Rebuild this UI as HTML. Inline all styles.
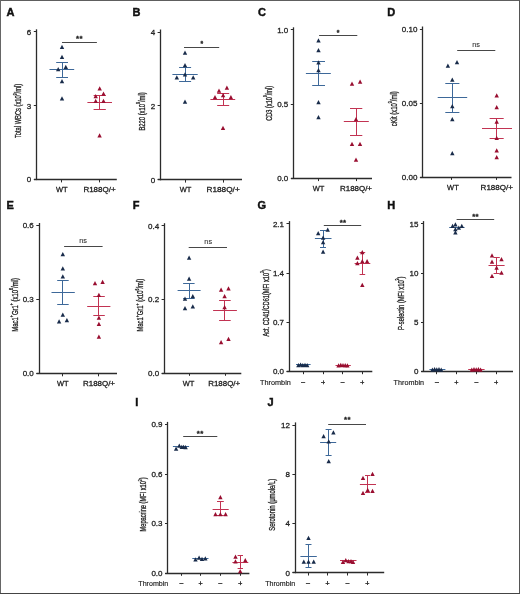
<!DOCTYPE html>
<html><head><meta charset="utf-8"><style>
html,body{margin:0;padding:0;background:#fff;}
body{width:520px;height:594px;overflow:hidden;}
svg{display:block;will-change:transform;}
text{font-family:"Liberation Sans", sans-serif;}
</style></head><body>
<svg width="520" height="594" viewBox="0 0 520 594">
<rect x="0" y="0" width="520" height="594" fill="#fff"/>
<text transform="translate(6.60,16.10) scale(1.08,1)" x="0" y="0" font-size="10.2" font-weight="bold" fill="#111" stroke="#111" stroke-width="0.42">A</text>
<line x1="36.50" y1="29.30" x2="36.50" y2="180.10" stroke="#2b2b2b" stroke-width="1.3"/>
<line x1="34.00" y1="179.50" x2="116.80" y2="179.50" stroke="#2b2b2b" stroke-width="1.3"/>
<line x1="33.80" y1="31.50" x2="36.60" y2="31.50" stroke="#2b2b2b" stroke-width="1.0"/>
<text x="31.30" y="34.75" font-size="8.0" text-anchor="end" font-weight="normal" fill="#222" stroke="#222" stroke-width="0.28">6</text>
<line x1="33.80" y1="105.50" x2="36.60" y2="105.50" stroke="#2b2b2b" stroke-width="1.0"/>
<text x="31.30" y="108.65" font-size="8.0" text-anchor="end" font-weight="normal" fill="#222" stroke="#222" stroke-width="0.28">3</text>
<line x1="33.80" y1="179.50" x2="36.60" y2="179.50" stroke="#2b2b2b" stroke-width="1.0"/>
<text x="31.30" y="182.45" font-size="8.0" text-anchor="end" font-weight="normal" fill="#222" stroke="#222" stroke-width="0.28">0</text>
<line x1="61.50" y1="179.60" x2="61.50" y2="182.40" stroke="#2b2b2b" stroke-width="1.0"/>
<line x1="99.50" y1="179.60" x2="99.50" y2="182.40" stroke="#2b2b2b" stroke-width="1.0"/>
<text x="61.70" y="192.20" font-size="7.3" text-anchor="middle" font-weight="normal" fill="#222" textLength="11.60" lengthAdjust="spacingAndGlyphs" stroke="#222" stroke-width="0.28">WT</text>
<text x="99.50" y="192.20" font-size="7.3" text-anchor="middle" font-weight="normal" fill="#222" textLength="32.20" lengthAdjust="spacingAndGlyphs" stroke="#222" stroke-width="0.28">R188Q/+</text>
<text transform="translate(21.30,110.95) rotate(-90) scale(0.6925,1)" x="0" y="0" font-size="8.3" text-anchor="middle" fill="#222" stroke="#222" stroke-width="0.3"><tspan>Total WBCs (x10</tspan><tspan font-size="5.0" baseline-shift="4.7">9</tspan><tspan>/ml)</tspan></text>
<line x1="62.00" y1="42.50" x2="96.90" y2="42.50" stroke="#474747" stroke-width="1.0"/>
<text x="79.50" y="41.30" font-size="7.8" text-anchor="middle" font-weight="bold" fill="#222" stroke="#222" stroke-width="0.3" letter-spacing="0.4">**</text>
<line x1="49.50" y1="69.50" x2="74.20" y2="69.50" stroke="#3d6899" stroke-width="1.0"/>
<line x1="62.50" y1="62.40" x2="62.50" y2="77.00" stroke="#3d6899" stroke-width="1.0"/>
<line x1="56.20" y1="62.50" x2="68.00" y2="62.50" stroke="#3d6899" stroke-width="1.0"/>
<line x1="56.20" y1="77.50" x2="68.00" y2="77.50" stroke="#3d6899" stroke-width="1.0"/>
<polygon points="62.00,44.80 64.20,49.05 59.80,49.05" fill="#182b4a"/>
<polygon points="62.00,54.80 64.20,59.05 59.80,59.05" fill="#182b4a"/>
<polygon points="58.20,67.10 60.40,71.35 56.00,71.35" fill="#182b4a"/>
<polygon points="65.80,64.80 68.00,69.05 63.60,69.05" fill="#182b4a"/>
<polygon points="62.00,79.00 64.20,83.25 59.80,83.25" fill="#182b4a"/>
<polygon points="62.00,96.30 64.20,100.55 59.80,100.55" fill="#182b4a"/>
<line x1="87.40" y1="102.50" x2="112.00" y2="102.50" stroke="#c23352" stroke-width="1.0"/>
<line x1="99.50" y1="95.80" x2="99.50" y2="109.60" stroke="#c23352" stroke-width="1.0"/>
<line x1="93.60" y1="95.50" x2="105.80" y2="95.50" stroke="#c23352" stroke-width="1.0"/>
<line x1="93.60" y1="109.50" x2="105.80" y2="109.50" stroke="#c23352" stroke-width="1.0"/>
<polygon points="99.70,86.30 101.90,90.55 97.50,90.55" fill="#990e30"/>
<polygon points="103.50,91.40 105.70,95.65 101.30,95.65" fill="#990e30"/>
<polygon points="95.70,94.00 97.90,98.25 93.50,98.25" fill="#990e30"/>
<polygon points="95.70,98.70 97.90,102.95 93.50,102.95" fill="#990e30"/>
<polygon points="103.50,98.70 105.70,102.95 101.30,102.95" fill="#990e30"/>
<polygon points="99.60,133.30 101.80,137.55 97.40,137.55" fill="#990e30"/>
<text transform="translate(132.60,16.10) scale(1.08,1)" x="0" y="0" font-size="10.2" font-weight="bold" fill="#111" stroke="#111" stroke-width="0.42">B</text>
<line x1="160.50" y1="29.50" x2="160.50" y2="180.30" stroke="#2b2b2b" stroke-width="1.3"/>
<line x1="157.80" y1="179.50" x2="242.00" y2="179.50" stroke="#2b2b2b" stroke-width="1.3"/>
<line x1="157.60" y1="32.50" x2="160.40" y2="32.50" stroke="#2b2b2b" stroke-width="1.0"/>
<text x="155.10" y="34.95" font-size="8.0" text-anchor="end" font-weight="normal" fill="#222" stroke="#222" stroke-width="0.28">4</text>
<line x1="157.60" y1="105.50" x2="160.40" y2="105.50" stroke="#2b2b2b" stroke-width="1.0"/>
<text x="155.10" y="108.75" font-size="8.0" text-anchor="end" font-weight="normal" fill="#222" stroke="#222" stroke-width="0.28">2</text>
<line x1="157.60" y1="179.50" x2="160.40" y2="179.50" stroke="#2b2b2b" stroke-width="1.0"/>
<text x="155.10" y="182.65" font-size="8.0" text-anchor="end" font-weight="normal" fill="#222" stroke="#222" stroke-width="0.28">0</text>
<line x1="185.50" y1="179.80" x2="185.50" y2="182.60" stroke="#2b2b2b" stroke-width="1.0"/>
<line x1="223.50" y1="179.80" x2="223.50" y2="182.60" stroke="#2b2b2b" stroke-width="1.0"/>
<text x="185.50" y="192.20" font-size="7.3" text-anchor="middle" font-weight="normal" fill="#222" textLength="11.60" lengthAdjust="spacingAndGlyphs" stroke="#222" stroke-width="0.28">WT</text>
<text x="223.10" y="192.20" font-size="7.3" text-anchor="middle" font-weight="normal" fill="#222" textLength="33.20" lengthAdjust="spacingAndGlyphs" stroke="#222" stroke-width="0.28">R188Q/+</text>
<text transform="translate(145.00,111.45) rotate(-90) scale(0.7034,1)" x="0" y="0" font-size="8.3" text-anchor="middle" fill="#222" stroke="#222" stroke-width="0.3"><tspan>B220 (x10</tspan><tspan font-size="5.0" baseline-shift="4.7">9</tspan><tspan>/ml)</tspan></text>
<line x1="184.00" y1="47.50" x2="219.20" y2="47.50" stroke="#474747" stroke-width="1.0"/>
<text x="201.90" y="46.00" font-size="6.8" text-anchor="middle" font-weight="bold" fill="#222" stroke="#222" stroke-width="0.3" letter-spacing="0.4">*</text>
<line x1="172.40" y1="74.50" x2="197.70" y2="74.50" stroke="#3d6899" stroke-width="1.0"/>
<line x1="185.50" y1="67.90" x2="185.50" y2="81.00" stroke="#3d6899" stroke-width="1.0"/>
<line x1="179.10" y1="67.50" x2="191.10" y2="67.50" stroke="#3d6899" stroke-width="1.0"/>
<line x1="179.10" y1="81.50" x2="191.10" y2="81.50" stroke="#3d6899" stroke-width="1.0"/>
<polygon points="185.00,50.50 187.20,54.75 182.80,54.75" fill="#182b4a"/>
<polygon points="185.00,63.10 187.20,67.35 182.80,67.35" fill="#182b4a"/>
<polygon points="185.00,72.20 187.20,76.45 182.80,76.45" fill="#182b4a"/>
<polygon points="176.80,75.20 179.00,79.45 174.60,79.45" fill="#182b4a"/>
<polygon points="193.20,75.20 195.40,79.45 191.00,79.45" fill="#182b4a"/>
<polygon points="185.00,99.40 187.20,103.65 182.80,103.65" fill="#182b4a"/>
<line x1="210.40" y1="99.50" x2="235.20" y2="99.50" stroke="#c23352" stroke-width="1.0"/>
<line x1="223.50" y1="93.70" x2="223.50" y2="105.20" stroke="#c23352" stroke-width="1.0"/>
<line x1="217.20" y1="93.50" x2="229.20" y2="93.50" stroke="#c23352" stroke-width="1.0"/>
<line x1="217.20" y1="105.50" x2="229.20" y2="105.50" stroke="#c23352" stroke-width="1.0"/>
<polygon points="226.90,85.40 229.10,89.65 224.70,89.65" fill="#990e30"/>
<polygon points="219.00,88.50 221.20,92.75 216.80,92.75" fill="#990e30"/>
<polygon points="223.10,92.90 225.30,97.15 220.90,97.15" fill="#990e30"/>
<polygon points="215.00,95.00 217.20,99.25 212.80,99.25" fill="#990e30"/>
<polygon points="230.90,95.00 233.10,99.25 228.70,99.25" fill="#990e30"/>
<polygon points="223.00,125.80 225.20,130.05 220.80,130.05" fill="#990e30"/>
<text transform="translate(257.90,16.10) scale(1.08,1)" x="0" y="0" font-size="10.2" font-weight="bold" fill="#111" stroke="#111" stroke-width="0.42">C</text>
<line x1="293.50" y1="27.30" x2="293.50" y2="178.80" stroke="#2b2b2b" stroke-width="1.3"/>
<line x1="291.00" y1="178.50" x2="372.00" y2="178.50" stroke="#2b2b2b" stroke-width="1.3"/>
<line x1="290.80" y1="29.50" x2="293.60" y2="29.50" stroke="#2b2b2b" stroke-width="1.0"/>
<text x="288.30" y="32.75" font-size="8.0" text-anchor="end" font-weight="normal" fill="#222" stroke="#222" stroke-width="0.28">1.0</text>
<line x1="290.80" y1="104.50" x2="293.60" y2="104.50" stroke="#2b2b2b" stroke-width="1.0"/>
<text x="288.30" y="107.15" font-size="8.0" text-anchor="end" font-weight="normal" fill="#222" stroke="#222" stroke-width="0.28">0.5</text>
<line x1="290.80" y1="178.50" x2="293.60" y2="178.50" stroke="#2b2b2b" stroke-width="1.0"/>
<text x="288.30" y="181.15" font-size="8.0" text-anchor="end" font-weight="normal" fill="#222" stroke="#222" stroke-width="0.28">0.0</text>
<line x1="318.50" y1="178.30" x2="318.50" y2="181.10" stroke="#2b2b2b" stroke-width="1.0"/>
<line x1="356.50" y1="178.30" x2="356.50" y2="181.10" stroke="#2b2b2b" stroke-width="1.0"/>
<text x="318.50" y="190.80" font-size="7.3" text-anchor="middle" font-weight="normal" fill="#222" textLength="11.60" lengthAdjust="spacingAndGlyphs" stroke="#222" stroke-width="0.28">WT</text>
<text x="356.00" y="190.80" font-size="7.3" text-anchor="middle" font-weight="normal" fill="#222" textLength="32.00" lengthAdjust="spacingAndGlyphs" stroke="#222" stroke-width="0.28">R188Q/+</text>
<text transform="translate(271.60,103.35) rotate(-90) scale(0.6794,1)" x="0" y="0" font-size="8.3" text-anchor="middle" fill="#222" stroke="#222" stroke-width="0.3"><tspan>CD3 (x10</tspan><tspan font-size="5.0" baseline-shift="4.7">9</tspan><tspan>/ml)</tspan></text>
<line x1="319.10" y1="35.50" x2="357.30" y2="35.50" stroke="#474747" stroke-width="1.0"/>
<text x="338.20" y="34.50" font-size="6.8" text-anchor="middle" font-weight="bold" fill="#222" stroke="#222" stroke-width="0.3" letter-spacing="0.4">*</text>
<line x1="305.90" y1="73.50" x2="330.80" y2="73.50" stroke="#3d6899" stroke-width="1.0"/>
<line x1="318.50" y1="61.50" x2="318.50" y2="85.90" stroke="#3d6899" stroke-width="1.0"/>
<line x1="312.20" y1="61.50" x2="325.00" y2="61.50" stroke="#3d6899" stroke-width="1.0"/>
<line x1="312.20" y1="85.50" x2="325.00" y2="85.50" stroke="#3d6899" stroke-width="1.0"/>
<polygon points="318.50,38.20 320.70,42.45 316.30,42.45" fill="#182b4a"/>
<polygon points="318.50,48.10 320.70,52.35 316.30,52.35" fill="#182b4a"/>
<polygon points="318.50,60.30 320.70,64.55 316.30,64.55" fill="#182b4a"/>
<polygon points="318.50,68.10 320.70,72.35 316.30,72.35" fill="#182b4a"/>
<polygon points="318.50,100.10 320.70,104.35 316.30,104.35" fill="#182b4a"/>
<polygon points="318.50,115.00 320.70,119.25 316.30,119.25" fill="#182b4a"/>
<line x1="343.80" y1="121.50" x2="368.80" y2="121.50" stroke="#c23352" stroke-width="1.0"/>
<line x1="356.50" y1="108.30" x2="356.50" y2="135.00" stroke="#c23352" stroke-width="1.0"/>
<line x1="350.00" y1="108.50" x2="362.30" y2="108.50" stroke="#c23352" stroke-width="1.0"/>
<line x1="350.00" y1="135.50" x2="362.30" y2="135.50" stroke="#c23352" stroke-width="1.0"/>
<polygon points="352.00,81.50 354.20,85.75 349.80,85.75" fill="#990e30"/>
<polygon points="360.10,79.50 362.30,83.75 357.90,83.75" fill="#990e30"/>
<polygon points="356.00,117.00 358.20,121.25 353.80,121.25" fill="#990e30"/>
<polygon points="352.00,141.80 354.20,146.05 349.80,146.05" fill="#990e30"/>
<polygon points="360.00,141.80 362.20,146.05 357.80,146.05" fill="#990e30"/>
<polygon points="356.00,157.50 358.20,161.75 353.80,161.75" fill="#990e30"/>
<text transform="translate(387.30,16.10) scale(1.08,1)" x="0" y="0" font-size="10.2" font-weight="bold" fill="#111" stroke="#111" stroke-width="0.42">D</text>
<line x1="422.50" y1="26.50" x2="422.50" y2="177.60" stroke="#2b2b2b" stroke-width="1.3"/>
<line x1="420.10" y1="177.50" x2="511.50" y2="177.50" stroke="#2b2b2b" stroke-width="1.3"/>
<line x1="419.90" y1="29.50" x2="422.70" y2="29.50" stroke="#2b2b2b" stroke-width="1.0"/>
<text x="417.40" y="31.95" font-size="8.0" text-anchor="end" font-weight="normal" fill="#222" stroke="#222" stroke-width="0.28">0.10</text>
<line x1="419.90" y1="103.50" x2="422.70" y2="103.50" stroke="#2b2b2b" stroke-width="1.0"/>
<text x="417.40" y="105.95" font-size="8.0" text-anchor="end" font-weight="normal" fill="#222" stroke="#222" stroke-width="0.28">0.05</text>
<line x1="419.90" y1="177.50" x2="422.70" y2="177.50" stroke="#2b2b2b" stroke-width="1.0"/>
<text x="417.40" y="179.95" font-size="8.0" text-anchor="end" font-weight="normal" fill="#222" stroke="#222" stroke-width="0.28">0.00</text>
<line x1="451.50" y1="177.10" x2="451.50" y2="179.90" stroke="#2b2b2b" stroke-width="1.0"/>
<line x1="496.50" y1="177.10" x2="496.50" y2="179.90" stroke="#2b2b2b" stroke-width="1.0"/>
<text x="452.90" y="189.80" font-size="7.3" text-anchor="middle" font-weight="normal" fill="#222" textLength="11.60" lengthAdjust="spacingAndGlyphs" stroke="#222" stroke-width="0.28">WT</text>
<text x="496.80" y="189.80" font-size="7.3" text-anchor="middle" font-weight="normal" fill="#222" textLength="32.40" lengthAdjust="spacingAndGlyphs" stroke="#222" stroke-width="0.28">R188Q/+</text>
<text transform="translate(396.90,108.80) rotate(-90) scale(0.7199,1)" x="0" y="0" font-size="8.3" text-anchor="middle" fill="#222" stroke="#222" stroke-width="0.3"><tspan>cKit (x10</tspan><tspan font-size="5.0" baseline-shift="4.7">9</tspan><tspan>/ml)</tspan></text>
<line x1="457.20" y1="50.50" x2="495.30" y2="50.50" stroke="#474747" stroke-width="1.0"/>
<text x="476.00" y="46.60" font-size="7.3" text-anchor="middle" fill="#333" stroke="#333" stroke-width="0.1">ns</text>
<line x1="437.70" y1="97.50" x2="467.20" y2="97.50" stroke="#3d6899" stroke-width="1.0"/>
<line x1="452.50" y1="83.10" x2="452.50" y2="112.30" stroke="#3d6899" stroke-width="1.0"/>
<line x1="445.30" y1="83.50" x2="459.40" y2="83.50" stroke="#3d6899" stroke-width="1.0"/>
<line x1="445.30" y1="112.50" x2="459.40" y2="112.50" stroke="#3d6899" stroke-width="1.0"/>
<polygon points="447.90,63.40 450.10,67.65 445.70,67.65" fill="#182b4a"/>
<polygon points="457.00,59.90 459.20,64.15 454.80,64.15" fill="#182b4a"/>
<polygon points="452.30,77.50 454.50,81.75 450.10,81.75" fill="#182b4a"/>
<polygon points="452.30,103.90 454.50,108.15 450.10,108.15" fill="#182b4a"/>
<polygon points="452.30,117.10 454.50,121.35 450.10,121.35" fill="#182b4a"/>
<polygon points="452.30,151.10 454.50,155.35 450.10,155.35" fill="#182b4a"/>
<line x1="482.00" y1="128.50" x2="512.00" y2="128.50" stroke="#c23352" stroke-width="1.0"/>
<line x1="496.50" y1="118.00" x2="496.50" y2="138.30" stroke="#c23352" stroke-width="1.0"/>
<line x1="489.60" y1="118.50" x2="503.70" y2="118.50" stroke="#c23352" stroke-width="1.0"/>
<line x1="489.60" y1="138.50" x2="503.70" y2="138.50" stroke="#c23352" stroke-width="1.0"/>
<polygon points="496.70,93.30 498.90,97.55 494.50,97.55" fill="#990e30"/>
<polygon points="496.70,105.10 498.90,109.35 494.50,109.35" fill="#990e30"/>
<polygon points="496.70,119.50 498.90,123.75 494.50,123.75" fill="#990e30"/>
<polygon points="496.70,135.80 498.90,140.05 494.50,140.05" fill="#990e30"/>
<polygon points="496.70,148.30 498.90,152.55 494.50,152.55" fill="#990e30"/>
<polygon points="496.70,154.90 498.90,159.15 494.50,159.15" fill="#990e30"/>
<text transform="translate(6.50,209.00) scale(1.08,1)" x="0" y="0" font-size="10.2" font-weight="bold" fill="#111" stroke="#111" stroke-width="0.42">E</text>
<line x1="39.50" y1="223.00" x2="39.50" y2="374.00" stroke="#2b2b2b" stroke-width="1.3"/>
<line x1="36.50" y1="373.50" x2="117.00" y2="373.50" stroke="#2b2b2b" stroke-width="1.3"/>
<line x1="36.30" y1="225.50" x2="39.10" y2="225.50" stroke="#2b2b2b" stroke-width="1.0"/>
<text x="33.80" y="228.45" font-size="8.0" text-anchor="end" font-weight="normal" fill="#222" stroke="#222" stroke-width="0.28">0.6</text>
<line x1="36.30" y1="299.50" x2="39.10" y2="299.50" stroke="#2b2b2b" stroke-width="1.0"/>
<text x="33.80" y="302.35" font-size="8.0" text-anchor="end" font-weight="normal" fill="#222" stroke="#222" stroke-width="0.28">0.3</text>
<line x1="36.30" y1="373.50" x2="39.10" y2="373.50" stroke="#2b2b2b" stroke-width="1.0"/>
<text x="33.80" y="376.35" font-size="8.0" text-anchor="end" font-weight="normal" fill="#222" stroke="#222" stroke-width="0.28">0.0</text>
<line x1="62.50" y1="373.50" x2="62.50" y2="376.30" stroke="#2b2b2b" stroke-width="1.0"/>
<line x1="98.50" y1="373.50" x2="98.50" y2="376.30" stroke="#2b2b2b" stroke-width="1.0"/>
<text x="62.70" y="385.90" font-size="7.3" text-anchor="middle" font-weight="normal" fill="#222" textLength="11.60" lengthAdjust="spacingAndGlyphs" stroke="#222" stroke-width="0.28">WT</text>
<text x="99.00" y="385.90" font-size="7.3" text-anchor="middle" font-weight="normal" fill="#222" textLength="32.00" lengthAdjust="spacingAndGlyphs" stroke="#222" stroke-width="0.28">R188Q/+</text>
<text transform="translate(18.00,304.90) rotate(-90) scale(0.7220,1)" x="0" y="0" font-size="8.2" text-anchor="middle" fill="#222" stroke="#222" stroke-width="0.3"><tspan>Mac1</tspan><tspan font-size="5.0" baseline-shift="4.7">+</tspan><tspan>Gr1</tspan><tspan font-size="5.0" baseline-shift="4.7">+</tspan><tspan> (x10</tspan><tspan font-size="5.0" baseline-shift="4.7">6</tspan><tspan>/ml)</tspan></text>
<line x1="64.10" y1="246.50" x2="102.60" y2="246.50" stroke="#474747" stroke-width="1.0"/>
<text x="83.00" y="242.80" font-size="7.3" text-anchor="middle" fill="#333" stroke="#333" stroke-width="0.1">ns</text>
<line x1="51.50" y1="292.50" x2="74.80" y2="292.50" stroke="#3d6899" stroke-width="1.0"/>
<line x1="62.50" y1="280.40" x2="62.50" y2="304.80" stroke="#3d6899" stroke-width="1.0"/>
<line x1="57.20" y1="280.50" x2="68.70" y2="280.50" stroke="#3d6899" stroke-width="1.0"/>
<line x1="57.20" y1="304.50" x2="68.70" y2="304.50" stroke="#3d6899" stroke-width="1.0"/>
<polygon points="62.80,251.90 65.00,256.15 60.60,256.15" fill="#182b4a"/>
<polygon points="62.80,266.20 65.00,270.45 60.60,270.45" fill="#182b4a"/>
<polygon points="62.80,274.20 65.00,278.45 60.60,278.45" fill="#182b4a"/>
<polygon points="62.80,312.50 65.00,316.75 60.60,316.75" fill="#182b4a"/>
<polygon points="59.10,319.20 61.30,323.45 56.90,323.45" fill="#182b4a"/>
<polygon points="66.90,318.10 69.10,322.35 64.70,322.35" fill="#182b4a"/>
<line x1="87.20" y1="306.50" x2="110.40" y2="306.50" stroke="#c23352" stroke-width="1.0"/>
<line x1="98.50" y1="296.50" x2="98.50" y2="315.60" stroke="#c23352" stroke-width="1.0"/>
<line x1="93.30" y1="296.50" x2="104.80" y2="296.50" stroke="#c23352" stroke-width="1.0"/>
<line x1="93.30" y1="315.50" x2="104.80" y2="315.50" stroke="#c23352" stroke-width="1.0"/>
<polygon points="95.00,281.00 97.20,285.25 92.80,285.25" fill="#990e30"/>
<polygon points="102.60,279.70 104.80,283.95 100.40,283.95" fill="#990e30"/>
<polygon points="98.90,292.70 101.10,296.95 96.70,296.95" fill="#990e30"/>
<polygon points="98.90,315.50 101.10,319.75 96.70,319.75" fill="#990e30"/>
<polygon points="98.90,321.80 101.10,326.05 96.70,326.05" fill="#990e30"/>
<polygon points="98.90,334.40 101.10,338.65 96.70,338.65" fill="#990e30"/>
<text transform="translate(132.80,209.20) scale(1.08,1)" x="0" y="0" font-size="10.2" font-weight="bold" fill="#111" stroke="#111" stroke-width="0.42">F</text>
<line x1="164.50" y1="223.20" x2="164.50" y2="373.50" stroke="#2b2b2b" stroke-width="1.3"/>
<line x1="161.80" y1="373.50" x2="241.30" y2="373.50" stroke="#2b2b2b" stroke-width="1.3"/>
<line x1="161.60" y1="225.50" x2="164.40" y2="225.50" stroke="#2b2b2b" stroke-width="1.0"/>
<text x="159.10" y="228.65" font-size="8.0" text-anchor="end" font-weight="normal" fill="#222" stroke="#222" stroke-width="0.28">0.4</text>
<line x1="161.60" y1="299.50" x2="164.40" y2="299.50" stroke="#2b2b2b" stroke-width="1.0"/>
<text x="159.10" y="302.35" font-size="8.0" text-anchor="end" font-weight="normal" fill="#222" stroke="#222" stroke-width="0.28">0.2</text>
<line x1="161.60" y1="373.50" x2="164.40" y2="373.50" stroke="#2b2b2b" stroke-width="1.0"/>
<text x="159.10" y="375.85" font-size="8.0" text-anchor="end" font-weight="normal" fill="#222" stroke="#222" stroke-width="0.28">0.0</text>
<line x1="189.50" y1="373.00" x2="189.50" y2="375.80" stroke="#2b2b2b" stroke-width="1.0"/>
<line x1="225.50" y1="373.00" x2="225.50" y2="375.80" stroke="#2b2b2b" stroke-width="1.0"/>
<text x="188.50" y="385.90" font-size="7.3" text-anchor="middle" font-weight="normal" fill="#222" textLength="11.60" lengthAdjust="spacingAndGlyphs" stroke="#222" stroke-width="0.28">WT</text>
<text x="224.20" y="385.90" font-size="7.3" text-anchor="middle" font-weight="normal" fill="#222" textLength="32.00" lengthAdjust="spacingAndGlyphs" stroke="#222" stroke-width="0.28">R188Q/+</text>
<text transform="translate(143.30,305.15) rotate(-90) scale(0.7099,1)" x="0" y="0" font-size="8.2" text-anchor="middle" fill="#222" stroke="#222" stroke-width="0.3"><tspan>Mac1</tspan><tspan font-size="5.0" baseline-shift="4.7">+</tspan><tspan>Gr1</tspan><tspan font-size="5.0" baseline-shift="4.7">+</tspan><tspan> (x10</tspan><tspan font-size="5.0" baseline-shift="4.7">6</tspan><tspan>/ml)</tspan></text>
<line x1="188.70" y1="247.50" x2="227.00" y2="247.50" stroke="#474747" stroke-width="1.0"/>
<text x="208.20" y="243.50" font-size="7.3" text-anchor="middle" fill="#333" stroke="#333" stroke-width="0.1">ns</text>
<line x1="177.60" y1="290.50" x2="200.60" y2="290.50" stroke="#3d6899" stroke-width="1.0"/>
<line x1="189.50" y1="283.10" x2="189.50" y2="298.90" stroke="#3d6899" stroke-width="1.0"/>
<line x1="183.10" y1="283.50" x2="194.60" y2="283.50" stroke="#3d6899" stroke-width="1.0"/>
<line x1="183.10" y1="298.50" x2="194.60" y2="298.50" stroke="#3d6899" stroke-width="1.0"/>
<polygon points="189.10,255.60 191.30,259.85 186.90,259.85" fill="#182b4a"/>
<polygon points="189.10,276.60 191.30,280.85 186.90,280.85" fill="#182b4a"/>
<polygon points="185.00,296.40 187.20,300.65 182.80,300.65" fill="#182b4a"/>
<polygon points="192.80,294.00 195.00,298.25 190.60,298.25" fill="#182b4a"/>
<polygon points="185.00,306.00 187.20,310.25 182.80,310.25" fill="#182b4a"/>
<polygon points="192.80,304.20 195.00,308.45 190.60,308.45" fill="#182b4a"/>
<line x1="213.10" y1="310.50" x2="236.90" y2="310.50" stroke="#c23352" stroke-width="1.0"/>
<line x1="224.50" y1="300.40" x2="224.50" y2="320.40" stroke="#c23352" stroke-width="1.0"/>
<line x1="219.10" y1="300.50" x2="230.70" y2="300.50" stroke="#c23352" stroke-width="1.0"/>
<line x1="219.10" y1="320.50" x2="230.70" y2="320.50" stroke="#c23352" stroke-width="1.0"/>
<polygon points="221.10,287.50 223.30,291.75 218.90,291.75" fill="#990e30"/>
<polygon points="228.50,286.20 230.70,290.45 226.30,290.45" fill="#990e30"/>
<polygon points="224.60,294.00 226.80,298.25 222.40,298.25" fill="#990e30"/>
<polygon points="224.60,305.10 226.80,309.35 222.40,309.35" fill="#990e30"/>
<polygon points="221.10,339.90 223.30,344.15 218.90,344.15" fill="#990e30"/>
<polygon points="228.50,336.80 230.70,341.05 226.30,341.05" fill="#990e30"/>
<text transform="translate(257.40,209.20) scale(1.08,1)" x="0" y="0" font-size="10.2" font-weight="bold" fill="#111" stroke="#111" stroke-width="0.42">G</text>
<line x1="289.50" y1="221.10" x2="289.50" y2="371.90" stroke="#2b2b2b" stroke-width="1.3"/>
<line x1="286.70" y1="371.50" x2="372.30" y2="371.50" stroke="#2b2b2b" stroke-width="1.3"/>
<line x1="286.50" y1="223.50" x2="289.30" y2="223.50" stroke="#2b2b2b" stroke-width="1.0"/>
<text x="284.00" y="226.55" font-size="8.0" text-anchor="end" font-weight="normal" fill="#222" stroke="#222" stroke-width="0.28">2.1</text>
<line x1="286.50" y1="273.50" x2="289.30" y2="273.50" stroke="#2b2b2b" stroke-width="1.0"/>
<text x="284.00" y="275.95" font-size="8.0" text-anchor="end" font-weight="normal" fill="#222" stroke="#222" stroke-width="0.28">1.4</text>
<line x1="286.50" y1="322.50" x2="289.30" y2="322.50" stroke="#2b2b2b" stroke-width="1.0"/>
<text x="284.00" y="324.95" font-size="8.0" text-anchor="end" font-weight="normal" fill="#222" stroke="#222" stroke-width="0.28">0.7</text>
<line x1="286.50" y1="371.50" x2="289.30" y2="371.50" stroke="#2b2b2b" stroke-width="1.0"/>
<text x="284.00" y="374.25" font-size="8.0" text-anchor="end" font-weight="normal" fill="#222" stroke="#222" stroke-width="0.28">0.0</text>
<line x1="303.50" y1="371.40" x2="303.50" y2="374.20" stroke="#2b2b2b" stroke-width="1.0"/>
<line x1="323.50" y1="371.40" x2="323.50" y2="374.20" stroke="#2b2b2b" stroke-width="1.0"/>
<line x1="342.50" y1="371.40" x2="342.50" y2="374.20" stroke="#2b2b2b" stroke-width="1.0"/>
<line x1="362.50" y1="371.40" x2="362.50" y2="374.20" stroke="#2b2b2b" stroke-width="1.0"/>
<text x="260.10" y="384.60" font-size="7.3" fill="#222" stroke="#222" stroke-width="0.15" textLength="30.70" lengthAdjust="spacingAndGlyphs">Thrombin</text>
<line x1="301.00" y1="382.50" x2="305.20" y2="382.50" stroke="#333" stroke-width="0.9"/>
<line x1="321.00" y1="382.50" x2="325.00" y2="382.50" stroke="#333" stroke-width="0.9"/>
<line x1="323.50" y1="380.30" x2="323.50" y2="384.30" stroke="#333" stroke-width="0.9"/>
<line x1="340.50" y1="382.50" x2="344.70" y2="382.50" stroke="#333" stroke-width="0.9"/>
<line x1="360.20" y1="382.50" x2="364.20" y2="382.50" stroke="#333" stroke-width="0.9"/>
<line x1="362.50" y1="380.30" x2="362.50" y2="384.30" stroke="#333" stroke-width="0.9"/>
<text transform="translate(268.70,302.85) rotate(-90) scale(0.6834,1)" x="0" y="0" font-size="8.2" text-anchor="middle" fill="#222" stroke="#222" stroke-width="0.3"><tspan>Act. CD41/CD61(MFI x10</tspan><tspan font-size="5.0" baseline-shift="4.7">3</tspan><tspan>)</tspan></text>
<line x1="323.80" y1="225.50" x2="361.20" y2="225.50" stroke="#474747" stroke-width="1.0"/>
<text x="343.10" y="224.70" font-size="7.8" text-anchor="middle" font-weight="bold" fill="#222" stroke="#222" stroke-width="0.3" letter-spacing="0.4">**</text>
<line x1="314.90" y1="238.50" x2="331.50" y2="238.50" stroke="#3d6899" stroke-width="1.0"/>
<line x1="323.50" y1="230.10" x2="323.50" y2="247.30" stroke="#3d6899" stroke-width="1.0"/>
<line x1="320.00" y1="230.50" x2="326.00" y2="230.50" stroke="#3d6899" stroke-width="1.0"/>
<line x1="320.00" y1="247.50" x2="326.00" y2="247.50" stroke="#3d6899" stroke-width="1.0"/>
<polygon points="318.20,231.00 320.40,235.25 316.00,235.25" fill="#182b4a"/>
<polygon points="327.70,227.40 329.90,231.65 325.50,231.65" fill="#182b4a"/>
<polygon points="323.10,235.60 325.30,239.85 320.90,239.85" fill="#182b4a"/>
<polygon points="323.10,239.90 325.30,244.15 320.90,244.15" fill="#182b4a"/>
<polygon points="323.10,249.40 325.30,253.65 320.90,253.65" fill="#182b4a"/>
<line x1="296.00" y1="364.50" x2="310.60" y2="364.50" stroke="#3d6899" stroke-width="1.0"/>
<polygon points="298.40,363.10 300.60,367.35 296.20,367.35" fill="#182b4a"/>
<polygon points="300.60,362.50 302.80,366.75 298.40,366.75" fill="#182b4a"/>
<polygon points="302.80,362.90 305.00,367.15 300.60,367.15" fill="#182b4a"/>
<polygon points="305.00,362.70 307.20,366.95 302.80,366.95" fill="#182b4a"/>
<polygon points="307.20,363.10 309.40,367.35 305.00,367.35" fill="#182b4a"/>
<line x1="354.60" y1="263.50" x2="370.30" y2="263.50" stroke="#c23352" stroke-width="1.0"/>
<line x1="362.50" y1="252.40" x2="362.50" y2="274.30" stroke="#c23352" stroke-width="1.0"/>
<line x1="359.60" y1="252.50" x2="365.20" y2="252.50" stroke="#c23352" stroke-width="1.0"/>
<line x1="359.60" y1="274.50" x2="365.20" y2="274.50" stroke="#c23352" stroke-width="1.0"/>
<polygon points="362.30,250.10 364.50,254.35 360.10,254.35" fill="#990e30"/>
<polygon points="357.40,255.60 359.60,259.85 355.20,259.85" fill="#990e30"/>
<polygon points="362.30,259.10 364.50,263.35 360.10,263.35" fill="#990e30"/>
<polygon points="367.10,259.10 369.30,263.35 364.90,263.35" fill="#990e30"/>
<polygon points="357.40,261.00 359.60,265.25 355.20,265.25" fill="#990e30"/>
<polygon points="362.30,282.80 364.50,287.05 360.10,287.05" fill="#990e30"/>
<line x1="335.50" y1="365.50" x2="350.80" y2="365.50" stroke="#c23352" stroke-width="1.0"/>
<polygon points="338.60,363.30 340.80,367.55 336.40,367.55" fill="#990e30"/>
<polygon points="340.80,362.70 343.00,366.95 338.60,366.95" fill="#990e30"/>
<polygon points="343.00,363.10 345.20,367.35 340.80,367.35" fill="#990e30"/>
<polygon points="345.20,362.90 347.40,367.15 343.00,367.15" fill="#990e30"/>
<polygon points="347.40,363.30 349.60,367.55 345.20,367.55" fill="#990e30"/>
<text transform="translate(387.30,209.20) scale(1.08,1)" x="0" y="0" font-size="10.2" font-weight="bold" fill="#111" stroke="#111" stroke-width="0.42">H</text>
<line x1="423.50" y1="221.10" x2="423.50" y2="371.90" stroke="#2b2b2b" stroke-width="1.3"/>
<line x1="421.20" y1="371.50" x2="513.00" y2="371.50" stroke="#2b2b2b" stroke-width="1.3"/>
<line x1="421.00" y1="223.50" x2="423.80" y2="223.50" stroke="#2b2b2b" stroke-width="1.0"/>
<text x="418.50" y="226.55" font-size="8.0" text-anchor="end" font-weight="normal" fill="#222" stroke="#222" stroke-width="0.28">15</text>
<line x1="421.00" y1="273.50" x2="423.80" y2="273.50" stroke="#2b2b2b" stroke-width="1.0"/>
<text x="418.50" y="276.45" font-size="8.0" text-anchor="end" font-weight="normal" fill="#222" stroke="#222" stroke-width="0.28">10</text>
<line x1="421.00" y1="322.50" x2="423.80" y2="322.50" stroke="#2b2b2b" stroke-width="1.0"/>
<text x="418.50" y="324.95" font-size="8.0" text-anchor="end" font-weight="normal" fill="#222" stroke="#222" stroke-width="0.28">5</text>
<line x1="421.00" y1="371.50" x2="423.80" y2="371.50" stroke="#2b2b2b" stroke-width="1.0"/>
<text x="418.50" y="374.25" font-size="8.0" text-anchor="end" font-weight="normal" fill="#222" stroke="#222" stroke-width="0.28">0</text>
<line x1="436.50" y1="371.40" x2="436.50" y2="374.20" stroke="#2b2b2b" stroke-width="1.0"/>
<line x1="456.50" y1="371.40" x2="456.50" y2="374.20" stroke="#2b2b2b" stroke-width="1.0"/>
<line x1="476.50" y1="371.40" x2="476.50" y2="374.20" stroke="#2b2b2b" stroke-width="1.0"/>
<line x1="496.50" y1="371.40" x2="496.50" y2="374.20" stroke="#2b2b2b" stroke-width="1.0"/>
<text x="393.60" y="384.60" font-size="7.3" fill="#222" stroke="#222" stroke-width="0.15" textLength="30.40" lengthAdjust="spacingAndGlyphs">Thrombin</text>
<line x1="434.80" y1="382.50" x2="439.00" y2="382.50" stroke="#333" stroke-width="0.9"/>
<line x1="454.40" y1="382.50" x2="458.40" y2="382.50" stroke="#333" stroke-width="0.9"/>
<line x1="456.50" y1="380.30" x2="456.50" y2="384.30" stroke="#333" stroke-width="0.9"/>
<line x1="474.30" y1="382.50" x2="478.50" y2="382.50" stroke="#333" stroke-width="0.9"/>
<line x1="494.10" y1="382.50" x2="498.10" y2="382.50" stroke="#333" stroke-width="0.9"/>
<line x1="496.50" y1="380.30" x2="496.50" y2="384.30" stroke="#333" stroke-width="0.9"/>
<text transform="translate(403.90,303.25) rotate(-90) scale(0.7026,1)" x="0" y="0" font-size="8.2" text-anchor="middle" fill="#222" stroke="#222" stroke-width="0.3"><tspan>P-selectin (MFI x10</tspan><tspan font-size="5.0" baseline-shift="4.7">3</tspan><tspan>)</tspan></text>
<line x1="456.60" y1="219.50" x2="494.20" y2="219.50" stroke="#474747" stroke-width="1.0"/>
<text x="475.60" y="219.00" font-size="7.8" text-anchor="middle" font-weight="bold" fill="#222" stroke="#222" stroke-width="0.3" letter-spacing="0.4">**</text>
<line x1="449.20" y1="227.50" x2="464.60" y2="227.50" stroke="#3d6899" stroke-width="1.0"/>
<polygon points="455.40,222.20 457.60,226.45 453.20,226.45" fill="#182b4a"/>
<polygon points="452.60,223.70 454.80,227.95 450.40,227.95" fill="#182b4a"/>
<polygon points="461.80,223.70 464.00,227.95 459.60,227.95" fill="#182b4a"/>
<polygon points="458.80,225.60 461.00,229.85 456.60,229.85" fill="#182b4a"/>
<polygon points="455.40,227.10 457.60,231.35 453.20,231.35" fill="#182b4a"/>
<polygon points="455.40,230.20 457.60,234.45 453.20,234.45" fill="#182b4a"/>
<line x1="429.40" y1="369.50" x2="445.40" y2="369.50" stroke="#3d6899" stroke-width="1.0"/>
<polygon points="432.40,367.40 434.60,371.65 430.20,371.65" fill="#182b4a"/>
<polygon points="434.60,366.90 436.80,371.15 432.40,371.15" fill="#182b4a"/>
<polygon points="436.80,367.30 439.00,371.55 434.60,371.55" fill="#182b4a"/>
<polygon points="439.00,367.00 441.20,371.25 436.80,371.25" fill="#182b4a"/>
<polygon points="441.20,367.40 443.40,371.65 439.00,371.65" fill="#182b4a"/>
<line x1="488.50" y1="265.50" x2="504.60" y2="265.50" stroke="#c23352" stroke-width="1.0"/>
<line x1="496.50" y1="257.30" x2="496.50" y2="273.20" stroke="#c23352" stroke-width="1.0"/>
<line x1="493.60" y1="257.50" x2="499.80" y2="257.50" stroke="#c23352" stroke-width="1.0"/>
<line x1="493.60" y1="273.50" x2="499.80" y2="273.50" stroke="#c23352" stroke-width="1.0"/>
<polygon points="492.00,253.30 494.20,257.55 489.80,257.55" fill="#990e30"/>
<polygon points="492.00,259.40 494.20,263.65 489.80,263.65" fill="#990e30"/>
<polygon points="501.50,257.10 503.70,261.35 499.30,261.35" fill="#990e30"/>
<polygon points="496.60,265.60 498.80,269.85 494.40,269.85" fill="#990e30"/>
<polygon points="492.00,273.70 494.20,277.95 489.80,277.95" fill="#990e30"/>
<polygon points="501.50,270.50 503.70,274.75 499.30,274.75" fill="#990e30"/>
<line x1="468.20" y1="369.50" x2="484.60" y2="369.50" stroke="#c23352" stroke-width="1.0"/>
<polygon points="471.80,367.40 474.00,371.65 469.60,371.65" fill="#990e30"/>
<polygon points="474.00,366.90 476.20,371.15 471.80,371.15" fill="#990e30"/>
<polygon points="476.20,367.30 478.40,371.55 474.00,371.55" fill="#990e30"/>
<polygon points="478.40,367.00 480.60,371.25 476.20,371.25" fill="#990e30"/>
<polygon points="480.60,367.40 482.80,371.65 478.40,371.65" fill="#990e30"/>
<text transform="translate(135.30,406.40) scale(1.08,1)" x="0" y="0" font-size="10.2" font-weight="bold" fill="#111" stroke="#111" stroke-width="0.42">I</text>
<line x1="167.50" y1="421.90" x2="167.50" y2="573.50" stroke="#2b2b2b" stroke-width="1.3"/>
<line x1="165.20" y1="573.50" x2="249.40" y2="573.50" stroke="#2b2b2b" stroke-width="1.3"/>
<line x1="165.00" y1="424.50" x2="167.80" y2="424.50" stroke="#2b2b2b" stroke-width="1.0"/>
<text x="162.50" y="427.35" font-size="8.0" text-anchor="end" font-weight="normal" fill="#222" stroke="#222" stroke-width="0.28">0.9</text>
<line x1="165.00" y1="474.50" x2="167.80" y2="474.50" stroke="#2b2b2b" stroke-width="1.0"/>
<text x="162.50" y="476.95" font-size="8.0" text-anchor="end" font-weight="normal" fill="#222" stroke="#222" stroke-width="0.28">0.6</text>
<line x1="165.00" y1="523.50" x2="167.80" y2="523.50" stroke="#2b2b2b" stroke-width="1.0"/>
<text x="162.50" y="526.15" font-size="8.0" text-anchor="end" font-weight="normal" fill="#222" stroke="#222" stroke-width="0.28">0.3</text>
<line x1="165.00" y1="573.50" x2="167.80" y2="573.50" stroke="#2b2b2b" stroke-width="1.0"/>
<text x="162.50" y="575.85" font-size="8.0" text-anchor="end" font-weight="normal" fill="#222" stroke="#222" stroke-width="0.28">0.0</text>
<line x1="181.50" y1="573.00" x2="181.50" y2="575.80" stroke="#2b2b2b" stroke-width="1.0"/>
<line x1="200.50" y1="573.00" x2="200.50" y2="575.80" stroke="#2b2b2b" stroke-width="1.0"/>
<line x1="220.50" y1="573.00" x2="220.50" y2="575.80" stroke="#2b2b2b" stroke-width="1.0"/>
<line x1="240.50" y1="573.00" x2="240.50" y2="575.80" stroke="#2b2b2b" stroke-width="1.0"/>
<text x="138.30" y="585.80" font-size="7.3" fill="#222" stroke="#222" stroke-width="0.15" textLength="30.00" lengthAdjust="spacingAndGlyphs">Thrombin</text>
<line x1="179.30" y1="583.50" x2="183.50" y2="583.50" stroke="#333" stroke-width="0.9"/>
<line x1="198.60" y1="583.50" x2="202.60" y2="583.50" stroke="#333" stroke-width="0.9"/>
<line x1="200.50" y1="581.20" x2="200.50" y2="585.20" stroke="#333" stroke-width="0.9"/>
<line x1="218.20" y1="583.50" x2="222.40" y2="583.50" stroke="#333" stroke-width="0.9"/>
<line x1="238.20" y1="583.50" x2="242.20" y2="583.50" stroke="#333" stroke-width="0.9"/>
<line x1="240.50" y1="581.20" x2="240.50" y2="585.20" stroke="#333" stroke-width="0.9"/>
<text transform="translate(146.30,504.40) rotate(-90) scale(0.6911,1)" x="0" y="0" font-size="8.2" text-anchor="middle" fill="#222" stroke="#222" stroke-width="0.3"><tspan>Mepacrine (MFI x10</tspan><tspan font-size="5.0" baseline-shift="4.7">3</tspan><tspan>)</tspan></text>
<line x1="183.20" y1="436.50" x2="217.30" y2="436.50" stroke="#474747" stroke-width="1.0"/>
<text x="200.20" y="435.80" font-size="7.8" text-anchor="middle" font-weight="bold" fill="#222" stroke="#222" stroke-width="0.3" letter-spacing="0.4">**</text>
<line x1="172.90" y1="446.50" x2="189.10" y2="446.50" stroke="#3d6899" stroke-width="1.0"/>
<polygon points="176.10,446.50 178.30,450.75 173.90,450.75" fill="#182b4a"/>
<polygon points="179.30,443.40 181.50,447.65 177.10,447.65" fill="#182b4a"/>
<polygon points="181.80,444.80 184.00,449.05 179.60,449.05" fill="#182b4a"/>
<polygon points="183.60,444.80 185.80,449.05 181.40,449.05" fill="#182b4a"/>
<polygon points="185.60,445.10 187.80,449.35 183.40,449.35" fill="#182b4a"/>
<line x1="192.30" y1="558.50" x2="208.50" y2="558.50" stroke="#3d6899" stroke-width="1.0"/>
<polygon points="195.50,557.30 197.70,561.55 193.30,561.55" fill="#182b4a"/>
<polygon points="199.10,555.50 201.30,559.75 196.90,559.75" fill="#182b4a"/>
<polygon points="202.00,556.80 204.20,561.05 199.80,561.05" fill="#182b4a"/>
<polygon points="205.30,556.30 207.50,560.55 203.10,560.55" fill="#182b4a"/>
<line x1="212.60" y1="509.50" x2="228.70" y2="509.50" stroke="#c23352" stroke-width="1.0"/>
<line x1="220.50" y1="501.30" x2="220.50" y2="515.80" stroke="#c23352" stroke-width="1.0"/>
<line x1="217.00" y1="501.50" x2="223.80" y2="501.50" stroke="#c23352" stroke-width="1.0"/>
<line x1="217.00" y1="515.50" x2="223.80" y2="515.50" stroke="#c23352" stroke-width="1.0"/>
<polygon points="220.40,495.00 222.60,499.25 218.20,499.25" fill="#990e30"/>
<polygon points="215.50,512.00 217.70,516.25 213.30,516.25" fill="#990e30"/>
<polygon points="220.40,512.00 222.60,516.25 218.20,516.25" fill="#990e30"/>
<polygon points="225.60,512.00 227.80,516.25 223.40,516.25" fill="#990e30"/>
<line x1="232.40" y1="562.50" x2="248.30" y2="562.50" stroke="#c23352" stroke-width="1.0"/>
<line x1="240.50" y1="555.40" x2="240.50" y2="568.60" stroke="#c23352" stroke-width="1.0"/>
<line x1="237.60" y1="555.50" x2="243.00" y2="555.50" stroke="#c23352" stroke-width="1.0"/>
<line x1="237.60" y1="568.50" x2="243.00" y2="568.50" stroke="#c23352" stroke-width="1.0"/>
<polygon points="235.50,554.60 237.70,558.85 233.30,558.85" fill="#990e30"/>
<polygon points="235.50,559.30 237.70,563.55 233.30,563.55" fill="#990e30"/>
<polygon points="245.30,558.00 247.50,562.25 243.10,562.25" fill="#990e30"/>
<polygon points="240.20,569.10 242.40,573.35 238.00,573.35" fill="#990e30"/>
<text transform="translate(267.60,406.40) scale(1.08,1)" x="0" y="0" font-size="10.2" font-weight="bold" fill="#111" stroke="#111" stroke-width="0.42">J</text>
<line x1="295.50" y1="422.40" x2="295.50" y2="573.20" stroke="#2b2b2b" stroke-width="1.3"/>
<line x1="292.60" y1="572.50" x2="384.20" y2="572.50" stroke="#2b2b2b" stroke-width="1.3"/>
<line x1="292.40" y1="425.50" x2="295.20" y2="425.50" stroke="#2b2b2b" stroke-width="1.0"/>
<text x="289.90" y="427.85" font-size="8.0" text-anchor="end" font-weight="normal" fill="#222" stroke="#222" stroke-width="0.28">12</text>
<line x1="292.40" y1="474.50" x2="295.20" y2="474.50" stroke="#2b2b2b" stroke-width="1.0"/>
<text x="289.90" y="477.05" font-size="8.0" text-anchor="end" font-weight="normal" fill="#222" stroke="#222" stroke-width="0.28">8</text>
<line x1="292.40" y1="523.50" x2="295.20" y2="523.50" stroke="#2b2b2b" stroke-width="1.0"/>
<text x="289.90" y="526.15" font-size="8.0" text-anchor="end" font-weight="normal" fill="#222" stroke="#222" stroke-width="0.28">4</text>
<line x1="292.40" y1="572.50" x2="295.20" y2="572.50" stroke="#2b2b2b" stroke-width="1.0"/>
<text x="289.90" y="575.55" font-size="8.0" text-anchor="end" font-weight="normal" fill="#222" stroke="#222" stroke-width="0.28">0</text>
<line x1="308.50" y1="572.70" x2="308.50" y2="575.50" stroke="#2b2b2b" stroke-width="1.0"/>
<line x1="327.50" y1="572.70" x2="327.50" y2="575.50" stroke="#2b2b2b" stroke-width="1.0"/>
<line x1="347.50" y1="572.70" x2="347.50" y2="575.50" stroke="#2b2b2b" stroke-width="1.0"/>
<line x1="367.50" y1="572.70" x2="367.50" y2="575.50" stroke="#2b2b2b" stroke-width="1.0"/>
<text x="265.20" y="585.80" font-size="7.3" fill="#222" stroke="#222" stroke-width="0.15" textLength="30.00" lengthAdjust="spacingAndGlyphs">Thrombin</text>
<line x1="305.90" y1="583.50" x2="310.10" y2="583.50" stroke="#333" stroke-width="0.9"/>
<line x1="325.50" y1="583.50" x2="329.50" y2="583.50" stroke="#333" stroke-width="0.9"/>
<line x1="327.50" y1="581.00" x2="327.50" y2="585.00" stroke="#333" stroke-width="0.9"/>
<line x1="345.40" y1="583.50" x2="349.60" y2="583.50" stroke="#333" stroke-width="0.9"/>
<line x1="365.30" y1="583.50" x2="369.30" y2="583.50" stroke="#333" stroke-width="0.9"/>
<line x1="367.50" y1="581.00" x2="367.50" y2="585.00" stroke="#333" stroke-width="0.9"/>
<text transform="translate(275.20,504.75) rotate(-90) scale(0.7218,1)" x="0" y="0" font-size="8.2" text-anchor="middle" fill="#222" stroke="#222" stroke-width="0.3"><tspan>Serotonin (μmole/L)</tspan></text>
<line x1="328.20" y1="424.50" x2="366.00" y2="424.50" stroke="#474747" stroke-width="1.0"/>
<text x="347.40" y="422.00" font-size="7.8" text-anchor="middle" font-weight="bold" fill="#222" stroke="#222" stroke-width="0.3" letter-spacing="0.4">**</text>
<line x1="320.10" y1="442.50" x2="336.20" y2="442.50" stroke="#3d6899" stroke-width="1.0"/>
<line x1="328.50" y1="429.70" x2="328.50" y2="455.30" stroke="#3d6899" stroke-width="1.0"/>
<line x1="325.60" y1="429.50" x2="331.60" y2="429.50" stroke="#3d6899" stroke-width="1.0"/>
<line x1="325.60" y1="455.50" x2="331.60" y2="455.50" stroke="#3d6899" stroke-width="1.0"/>
<polygon points="323.60,434.10 325.80,438.35 321.40,438.35" fill="#182b4a"/>
<polygon points="333.40,430.30 335.60,434.55 331.20,434.55" fill="#182b4a"/>
<polygon points="328.70,439.30 330.90,443.55 326.50,443.55" fill="#182b4a"/>
<polygon points="328.70,458.90 330.90,463.15 326.50,463.15" fill="#182b4a"/>
<line x1="300.40" y1="556.50" x2="316.80" y2="556.50" stroke="#3d6899" stroke-width="1.0"/>
<line x1="308.50" y1="544.40" x2="308.50" y2="567.20" stroke="#3d6899" stroke-width="1.0"/>
<line x1="305.50" y1="544.50" x2="311.50" y2="544.50" stroke="#3d6899" stroke-width="1.0"/>
<line x1="305.50" y1="567.50" x2="311.50" y2="567.50" stroke="#3d6899" stroke-width="1.0"/>
<polygon points="308.50,535.80 310.70,540.05 306.30,540.05" fill="#182b4a"/>
<polygon points="303.80,559.50 306.00,563.75 301.60,563.75" fill="#182b4a"/>
<polygon points="308.50,559.50 310.70,563.75 306.30,563.75" fill="#182b4a"/>
<polygon points="313.70,559.50 315.90,563.75 311.50,563.75" fill="#182b4a"/>
<line x1="359.90" y1="484.50" x2="376.00" y2="484.50" stroke="#c23352" stroke-width="1.0"/>
<line x1="367.50" y1="475.90" x2="367.50" y2="492.50" stroke="#c23352" stroke-width="1.0"/>
<line x1="365.00" y1="475.50" x2="370.00" y2="475.50" stroke="#c23352" stroke-width="1.0"/>
<line x1="365.00" y1="492.50" x2="370.00" y2="492.50" stroke="#c23352" stroke-width="1.0"/>
<polygon points="363.00,475.70 365.20,479.95 360.80,479.95" fill="#990e30"/>
<polygon points="372.50,471.70 374.70,475.95 370.30,475.95" fill="#990e30"/>
<polygon points="363.00,490.70 365.20,494.95 360.80,494.95" fill="#990e30"/>
<polygon points="367.70,487.80 369.90,492.05 365.50,492.05" fill="#990e30"/>
<polygon points="372.50,488.70 374.70,492.95 370.30,492.95" fill="#990e30"/>
<line x1="340.00" y1="560.50" x2="356.50" y2="560.50" stroke="#c23352" stroke-width="1.0"/>
<polygon points="343.00,559.80 345.20,564.05 340.80,564.05" fill="#990e30"/>
<polygon points="345.80,558.00 348.00,562.25 343.60,562.25" fill="#990e30"/>
<polygon points="348.50,559.10 350.70,563.35 346.30,563.35" fill="#990e30"/>
<polygon points="351.00,559.10 353.20,563.35 348.80,563.35" fill="#990e30"/>
<polygon points="353.00,559.80 355.20,564.05 350.80,564.05" fill="#990e30"/>
<line x1="0" y1="0.5" x2="520" y2="0.5" stroke="#5e5e5e" stroke-width="1"/>
<line x1="0.5" y1="0" x2="0.5" y2="594" stroke="#666" stroke-width="1"/>
<line x1="519.5" y1="0" x2="519.5" y2="594" stroke="#555" stroke-width="1"/>
<line x1="0" y1="593.5" x2="520" y2="593.5" stroke="#444" stroke-width="1"/>
</svg>
</body></html>
